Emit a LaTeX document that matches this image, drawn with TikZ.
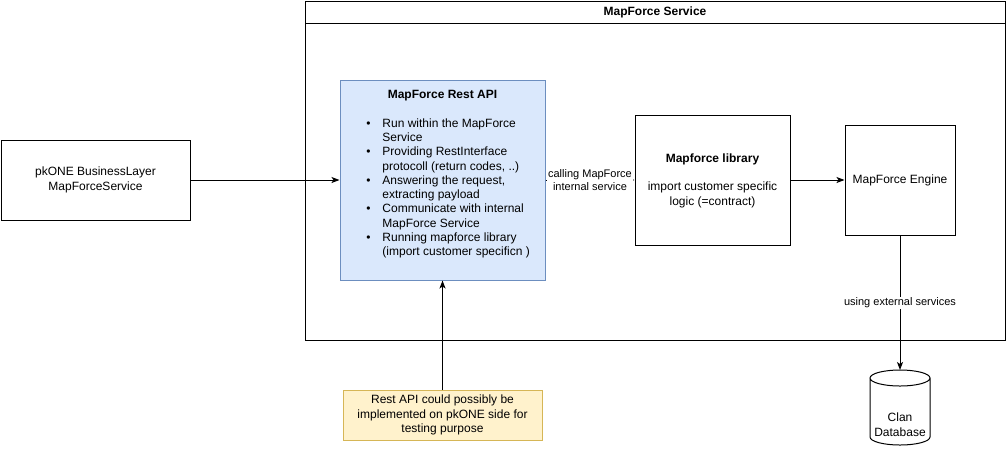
\documentclass[tikz,border=0pt]{standalone}
\usepackage{fontspec}
\setmainfont{Liberation Sans}
\usetikzlibrary{arrows.meta}
\definecolor{bluefill}{HTML}{DAE8FC}
\definecolor{bluedraw}{HTML}{6C8EBF}
\definecolor{yelfill}{HTML}{FFF2CC}
\definecolor{yeldraw}{HTML}{D6B656}
\begin{document}
\begin{tikzpicture}[x=0.75pt,y=-0.75pt,
  box/.style={draw=black,line width=0.75pt,align=center,inner sep=0pt,font=\fontsize{9}{10.7}\selectfont},
  conn/.style={line width=0.75pt,-{Stealth[length=6pt,width=4.5pt,inset=1.5pt]}},
  elabel/.style={fill=white,inner sep=1pt,align=center,font=\fontsize{8.25}{10}\selectfont}]
\useasboundingbox (0,0) rectangle (1006,451);
% container
\node[box,minimum width=525pt,minimum height=254.25pt] (svc) at (655,170.5) {};
\coordinate (hl) at (305,23);
\coordinate (hr) at (1005,23);
\draw[line width=0.75pt] (hl) -- (hr);
\node[font=\bfseries\fontsize{9}{10.7}\selectfont] (svct) at (655,12) {MapForce Service};
% boxes
\node[box,minimum width=141.75pt,minimum height=60pt] (pk) at (95.5,180) {pkONE BusinessLayer\\MapForceService};
\node[box,draw=bluedraw,fill=bluefill,minimum width=153.75pt,minimum height=150pt] (rest) at (442.5,180) {};
\node[font=\bfseries\fontsize{9}{10.7}\selectfont] (restt) at (442.5,96) {MapForce Rest API};
\node[anchor=north west,inner sep=0pt,font=\fontsize{9}{10.7}\selectfont] (restl) at (366,117) {%
\begin{tabular}{@{}l@{\hspace{9pt}}l@{}}
\textbullet & Run within the MapForce\\
 & Service\\
\textbullet & Providing RestInterface\\
 & protocoll (return codes, ..)\\
\textbullet & Answering the request,\\
 & extracting payload\\
\textbullet & Communicate with internal\\
 & MapForce Service\\
\textbullet & Running mapforce library\\
 & (import customer specificn )
\end{tabular}};
\node[box,minimum width=116.25pt,minimum height=97.5pt] (lib) at (712.5,180) {};
\node[font=\bfseries\fontsize{9}{10.7}\selectfont] (libt) at (712.5,159) {Mapforce library};
\node[align=center,inner sep=0pt,font=\fontsize{9}{11.5}\selectfont] (libx) at (712.5,195) {import customer specific\\logic (=contract)};
\node[box,minimum width=82.5pt,minimum height=82.5pt] (eng) at (900,180) {MapForce Engine};
% database
\coordinate (dbtop) at (900,370);
\draw[line width=0.75pt,fill=white] (870,378) -- (870,437) arc[start angle=180,end angle=0,x radius=30,y radius=8] -- (930,378) arc[start angle=0,end angle=-180,x radius=30,y radius=8] arc[start angle=180,end angle=0,x radius=30,y radius=8];
\node[align=center,inner sep=0pt,font=\fontsize{9}{11.3}\selectfont] (db) at (900,425) {Clan\\Database};
% note
\node[box,draw=yeldraw,fill=yelfill,minimum width=149.25pt,minimum height=37.5pt] (note) at (442.5,415) {Rest API could possibly be\\implemented on pkONE side for\\testing purpose};
% connectors
\draw[conn] (pk.east) -- (rest.west);
\draw[conn] (rest.east) -- (lib.west);
\node[elabel] (callt) at (590,180) {calling MapForce\\internal service};
\draw[conn] (lib.east) -- (eng.west);
\draw[conn] (eng.south) -- (dbtop);
\node[elabel] (extt) at (900,303) {using external services};
\draw[conn] (note.north) -- (rest.south);
\end{tikzpicture}
\end{document}
